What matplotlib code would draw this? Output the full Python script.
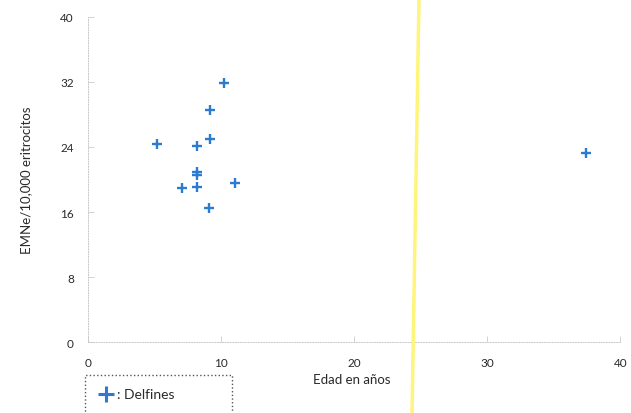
import matplotlib.pyplot as plt
from matplotlib.lines import Line2D
from matplotlib.patches import Rectangle

# edad (años) y EMNe/10,000 eritrocitos
edad = [5.2, 10.2, 9.2, 9.2, 8.2, 8.2, 8.2, 8.2, 7.1, 11.1, 9.1, 37.4]
emne = [24.4, 31.9, 28.6, 25.0, 24.1, 20.6, 20.9, 19.1, 19.0, 19.6, 16.5, 23.3]

xticks = [0, 10, 20, 30, 40]
yticks = [0, 8, 16, 24, 32, 40]

plt.rcParams['font.family'] = ['Lato', 'DejaVu Sans']

fig = plt.figure(figsize=(6.31, 4.14), dpi=100)
ax = fig.add_axes([0.139, 0.171, 0.844, 0.786])

ax.plot(edad, emne, '+', color='#2b7bd0', markersize=7, mew=1.7)

ax.set_xlim(0, 40)
ax.set_ylim(0, 40)
ax.set_xticks(xticks)
ax.set_yticks(yticks)
ax.tick_params(direction='in', length=4, width=0.6, color='#cccccc',
               labelsize=8.5, labelcolor='#2a2a2a')
ax.tick_params(axis='x', pad=11)
ax.tick_params(axis='y', pad=10)

for s in ['top', 'right']:
    ax.spines[s].set_visible(False)
for s in ['left', 'bottom']:
    ax.spines[s].set_color('#c8c8c8')
    ax.spines[s].set_linewidth(0.7)
    ax.spines[s].set_linestyle(':')

ax.set_ylabel('EMNe/10,000 eritrocitos', fontsize=9.5, color='#2a2a2a', labelpad=20)
fig.text(0.557, 0.072, 'Edad en años', ha='center', fontsize=9.5, color='#2a2a2a')

# cuadro de leyenda punteado (cortado abajo)
fig.add_artist(Rectangle((0.134, -0.05), 0.234, 0.142, transform=fig.transFigure,
                         fill=False, edgecolor='#555555', linestyle=':', linewidth=1.0))
fig.add_artist(Line2D([0.168], [0.046], marker='+', linestyle='none', color='#2b7bd0',
                      markersize=11, mew=2.2, transform=fig.transFigure))
fig.text(0.186, 0.046, ': Delfines', va='center', fontsize=10, color='#2a2a2a')

# franja amarilla del escaneo
fig.add_artist(Line2D([0.664, 0.653], [1.0, 0.0], color='#fff57a', linewidth=2.5,
                      transform=fig.transFigure))

fig.savefig('out.png', dpi=100)
